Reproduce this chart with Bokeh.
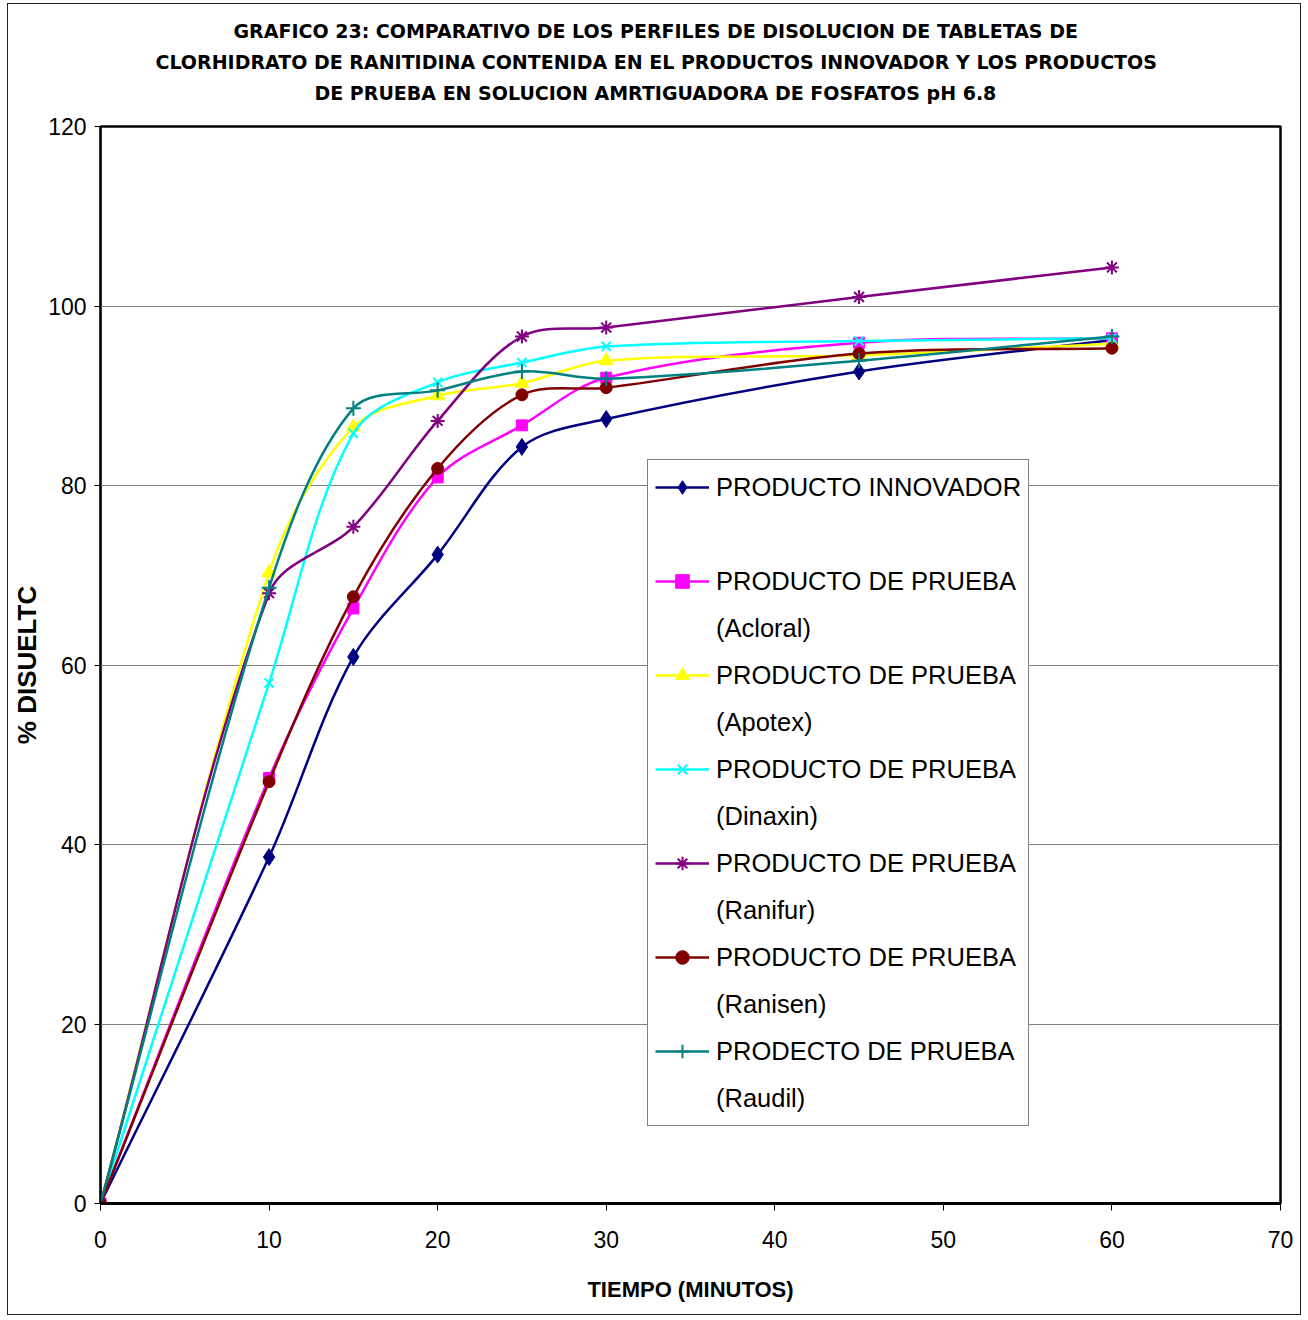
import numpy as np
from bokeh.plotting import figure
from bokeh.models import Range1d, Legend, LegendItem, FixedTicker, Title
from bokeh.embed import file_html
from bokeh.resources import INLINE

# Dissolution profiles, % dissolved vs time (minutes)
tiempo = [0, 10, 15, 20, 25, 30, 45, 60]
innovador = [0, 38.6, 60.9, 72.3, 84.3, 87.4, 92.7, 96.2]
acloral = [0, 47.4, 66.3, 80.9, 86.7, 92.0, 95.9, 96.4]
apotex = [0, 70.3, 86.5, 90.0, 91.4, 93.9, 94.5, 95.8]
dinaxin = [0, 58.0, 85.8, 91.5, 93.7, 95.5, 96.1, 96.4]
ranifur = [0, 68.0, 75.4, 87.2, 96.6, 97.6, 101.0, 104.3]
ranisen = [0, 47.0, 67.6, 81.9, 90.1, 90.9, 94.7, 95.3]
raudil = [0, 68.6, 88.6, 90.6, 92.7, 91.9, 93.9, 96.6]

nombres = ["PRODUCTO INNOVADOR", "PRODUCTO DE PRUEBA", "PRODUCTO DE PRUEBA",
           "PRODUCTO DE PRUEBA", "PRODUCTO DE PRUEBA", "PRODUCTO DE PRUEBA",
           "PRODECTO DE PRUEBA"]
marcas = [" ", "(Acloral)", "(Apotex)", "(Dinaxin)", "(Ranifur)", "(Ranisen)", "(Raudil)"]

titulo = [
    "GRAFICO 23: COMPARATIVO DE LOS PERFILES DE DISOLUCION DE TABLETAS DE",
    "CLORHIDRATO DE RANITIDINA CONTENIDA EN EL PRODUCTOS INNOVADOR Y LOS PRODUCTOS",
    "DE PRUEBA  EN  SOLUCION AMRTIGUADORA DE FOSFATOS pH 6.8",
]
# left offset of each title line from the plot frame
desplazamiento = [133, 55, 214]

estilos = [
    (innovador, "#000080", "diamond", 17),
    (acloral, "#FF00FF", "square", 11),
    (apotex, "#FFFF00", "triangle", 14),
    (dinaxin, "#00FFFF", "x", 13),
    (ranifur, "#800080", "asterisk", 14),
    (ranisen, "#800000", "circle", 12),
    (raudil, "#008080", "cross", 15),
]

# frame size in pixels, used to weight the smoothing by on-screen segment length
FRAME_W, FRAME_H = 1180, 1077
X_MAX, Y_MAX = 70, 120


def bezier_segments(xs, ys):
    """Cubic Bezier segments through each point, tangents weighted by chord length."""
    xs = np.asarray(xs, float)
    ys = np.asarray(ys, float)
    n = len(xs)
    kx, ky = FRAME_W / X_MAX, FRAME_H / Y_MAX
    d = np.hypot(np.diff(xs) * kx, np.diff(ys) * ky)
    tx = np.empty(n); ty = np.empty(n)
    for i in range(n):
        a, b = max(i - 1, 0), min(i + 1, n - 1)
        tx[i] = xs[b] - xs[a]
        ty[i] = ys[b] - ys[a]
    seg = {k: [] for k in ("x0", "y0", "x1", "y1", "cx0", "cy0", "cx1", "cy1")}
    for i in range(n - 1):
        dl = d[i - 1] if i > 0 else 0.0
        dr = d[i + 1] if i + 1 < n - 1 else 0.0
        w0 = d[i] / (3 * (dl + d[i]))
        w1 = d[i] / (3 * (d[i] + dr))
        seg["x0"].append(xs[i]); seg["y0"].append(ys[i])
        seg["x1"].append(xs[i + 1]); seg["y1"].append(ys[i + 1])
        seg["cx0"].append(xs[i] + tx[i] * w0)
        seg["cy0"].append(ys[i] + ty[i] * w0)
        seg["cx1"].append(xs[i + 1] - tx[i + 1] * w1)
        seg["cy1"].append(ys[i + 1] - ty[i + 1] * w1)
    return seg


p = figure(width=1294, height=1312, output_backend="svg", toolbar_location=None,
           x_range=Range1d(0, X_MAX), y_range=Range1d(0, Y_MAX),
           min_border_left=92, min_border_right=22,
           min_border_top=122, min_border_bottom=113,
           background_fill_color="white", border_fill_color="white")
p.margin = (3, 5, 3, 7)
p.styles = {"border": "1px solid #202020"}

# title lines: a small blank spacer next to the frame, then lines 3, 2 and 1 upwards
p.add_layout(Title(text=" ", text_font_size="16px", standoff=0), "above")
p.add_layout(Title(text=titulo[2], standoff=7), "above")
p.add_layout(Title(text=titulo[1], standoff=7), "above")
p.title.text = titulo[0]
p.title.standoff = 7
lineas = [p.title] + [a for a in p.above if isinstance(a, Title) and a.text != " "][::-1]
for t, dx in zip(lineas, desplazamiento):
    t.align = "left"
    t.offset = dx
    t.text_font = "DejaVu Sans"
    t.text_font_style = "bold"
    t.text_font_size = "19px"
    t.text_color = "black"

p.outline_line_color = "black"
p.outline_line_width = 2.5

p.xaxis.ticker = FixedTicker(ticks=[0, 10, 20, 30, 40, 50, 60, 70])
p.yaxis.ticker = FixedTicker(ticks=[0, 20, 40, 60, 80, 100, 120])
p.xaxis.minor_tick_line_color = None
p.yaxis.minor_tick_line_color = None
p.xaxis.major_tick_in = 0
p.xaxis.major_tick_out = 7
p.yaxis.major_tick_in = 0
p.yaxis.major_tick_out = 6
p.xaxis.axis_line_width = 3
p.yaxis.axis_line_width = 1.5
for ax in (p.xaxis, p.yaxis):
    ax.axis_line_color = "black"
    ax.major_tick_line_color = "black"
    ax.major_label_text_font = "Liberation Sans"
    ax.major_label_text_font_size = "23px"
    ax.major_label_text_color = "black"
    ax.axis_label_text_color = "black"
    ax.axis_label_text_font = "Liberation Sans"
    ax.axis_label_text_font_style = "bold"
p.xaxis.major_label_standoff = 20
p.yaxis.major_label_standoff = 8

p.xaxis.axis_label = "TIEMPO (MINUTOS)"
p.xaxis.axis_label_text_font_size = "22px"
p.xaxis.axis_label_standoff = 26
p.yaxis.axis_label = "% DISUELTC"
p.yaxis.axis_label_text_font_size = "26px"
p.yaxis.axis_label_standoff = 3

p.xgrid.visible = False
p.ygrid.ticker = FixedTicker(ticks=[20, 40, 60, 80, 100])
p.ygrid.grid_line_color = "#808080"
p.ygrid.grid_line_width = 1.2

items = []
for (vals, color, marker, size), nombre, marca in zip(estilos, nombres, marcas):
    seg = bezier_segments(tiempo, vals)
    curve = p.bezier(line_color=color, line_width=2.5, **seg)
    if marker in ("x", "asterisk", "cross"):
        pts = p.scatter(tiempo, vals, marker=marker, size=size,
                        line_color=color, line_width=2, fill_color=None)
    else:
        pts = p.scatter(tiempo, vals, marker=marker, size=size,
                        line_color=color, fill_color=color)
    items.append(LegendItem(label=nombre, renderers=[curve, pts]))
    items.append(LegendItem(label=marca, renderers=[]))

legend = Legend(items=items, location=(547, 77),
                label_text_font="Liberation Sans",
                label_text_font_size="25.5px",
                label_text_color="black",
                glyph_width=54, glyph_height=34, label_height=40,
                label_standoff=7, padding=7, spacing=7, margin=0,
                border_line_color="black", border_line_width=1,
                background_fill_color="white", background_fill_alpha=1)
p.add_layout(legend, "center")

open("out.html", "w").write(file_html(p, INLINE))
